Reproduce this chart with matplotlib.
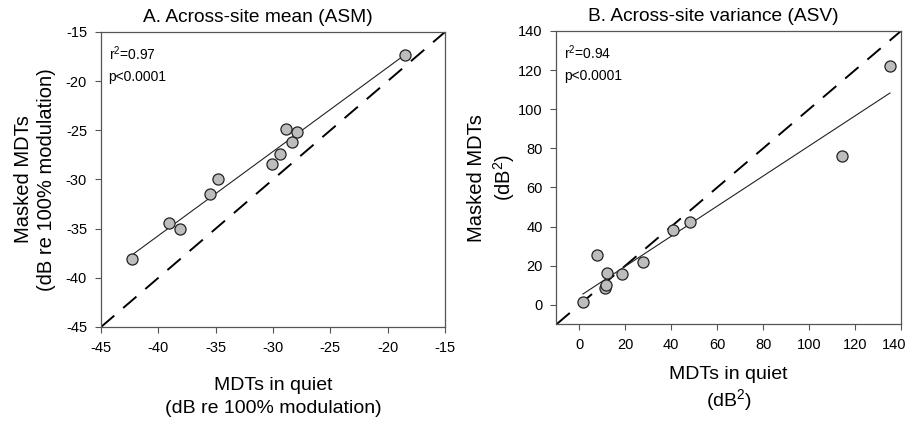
import numpy as np
import matplotlib
matplotlib.use('Agg')
import matplotlib.pyplot as plt
from matplotlib.transforms import ScaledTranslation

plt.rcParams['font.family'] = ['Liberation Sans', 'DejaVu Sans']
plt.rcParams['mathtext.fontset'] = 'custom'
plt.rcParams['mathtext.rm'] = 'Liberation Sans'
plt.rcParams['axes.unicode_minus'] = False

# Panel A: across-site mean (dB re 100% modulation)
asm_quiet = [-42.3, -39.1, -38.1, -35.5, -34.8, -30.1, -29.4, -28.9, -28.3, -27.9, -18.5]
asm_masked = [-38.1, -34.4, -35.0, -31.5, -29.9, -28.4, -27.4, -24.9, -26.2, -25.2, -17.3]

# Panel B: across-site variance (dB^2)
asv_quiet = [1.5, 7.7, 11.2, 11.4, 12.2, 18.7, 27.7, 40.6, 48.3, 114.5, 135.2]
asv_masked = [1.2, 25.6, 8.8, 10.3, 16.1, 15.5, 21.8, 38.0, 42.1, 75.9, 122.0]

stats_a = ['0.97', 'p<0.0001']
stats_b = ['0.94', 'p<0.0001']

fig = plt.figure(figsize=(9.1, 4.21), dpi=100)
ax_a = fig.add_axes([0.111, 0.2233, 0.378, 0.7007])
ax_b = fig.add_axes([0.6115, 0.2297, 0.3786, 0.6967])


def draw_panel(ax, xs, ys, lims, ticks, stats, title, xlabel, ylabel, xpad, xspace, ypad):
    xs = np.array(xs)
    ys = np.array(ys)
    # identity line
    ax.plot(lims, lims, color='black', lw=1.4, dashes=(9, 6), zorder=1)
    # regression line across the data range
    slope, icpt = np.polyfit(xs, ys, 1)
    xr = np.array([xs.min(), xs.max()])
    ax.plot(xr, slope * xr + icpt, color='#222222', lw=0.8, zorder=2)
    ax.plot(xs, ys, 'o', ms=8, mfc='#bdbdbd', mec='#222222', mew=0.9, zorder=3)
    ax.set_xlim(lims)
    ax.set_ylim(lims)
    ax.set_xticks(ticks)
    ax.set_yticks(ticks)
    ax.tick_params(direction='out', length=4, width=0.8, labelsize=10.5, color='#555555', pad=6)
    for sp in ax.spines.values():
        sp.set_color('#555555')
        sp.set_linewidth(0.9)
    ax.text(0.022, 0.925, r'r$^{\mathregular{2}}$=' + stats[0], transform=ax.transAxes,
            fontsize=10, va='center', ha='left')
    ax.text(0.022, 0.847, stats[1], transform=ax.transAxes,
            fontsize=10, va='center', ha='left')
    ax.set_title(title, fontsize=13.8, x=0.455, pad=7)
    ax.set_xlabel(xlabel, fontsize=14, labelpad=xpad, linespacing=xspace)
    ax.set_ylabel(ylabel, fontsize=14.5, labelpad=ypad, linespacing=1.25)


draw_panel(ax_a, asm_quiet, asm_masked, [-45, -15], [-45, -40, -35, -30, -25, -20, -15], stats_a,
           'A. Across-site mean (ASM)',
           'MDTs in quiet\n(dB re 100% modulation)',
           'Masked MDTs\n(dB re 100% modulation)', 16, 1.45, 7)
draw_panel(ax_b, asv_quiet, asv_masked, [-10, 140], [0, 20, 40, 60, 80, 100, 120, 140], stats_b,
           'B. Across-site variance (ASV)',
           'MDTs in quiet\n' + r'(dB$^{\mathregular{2}}$)',
           'Masked MDTs\n' + r'(dB$^{\mathregular{2}}$)', 10, 1.2, 1)

# keep the last x tick label of panel B inside the figure
last = ax_b.get_xticklabels()[-1]
last.set_transform(last.get_transform() + ScaledTranslation(-5 / 72, 0, fig.dpi_scale_trans))

fig.savefig('out.png', dpi=100)
